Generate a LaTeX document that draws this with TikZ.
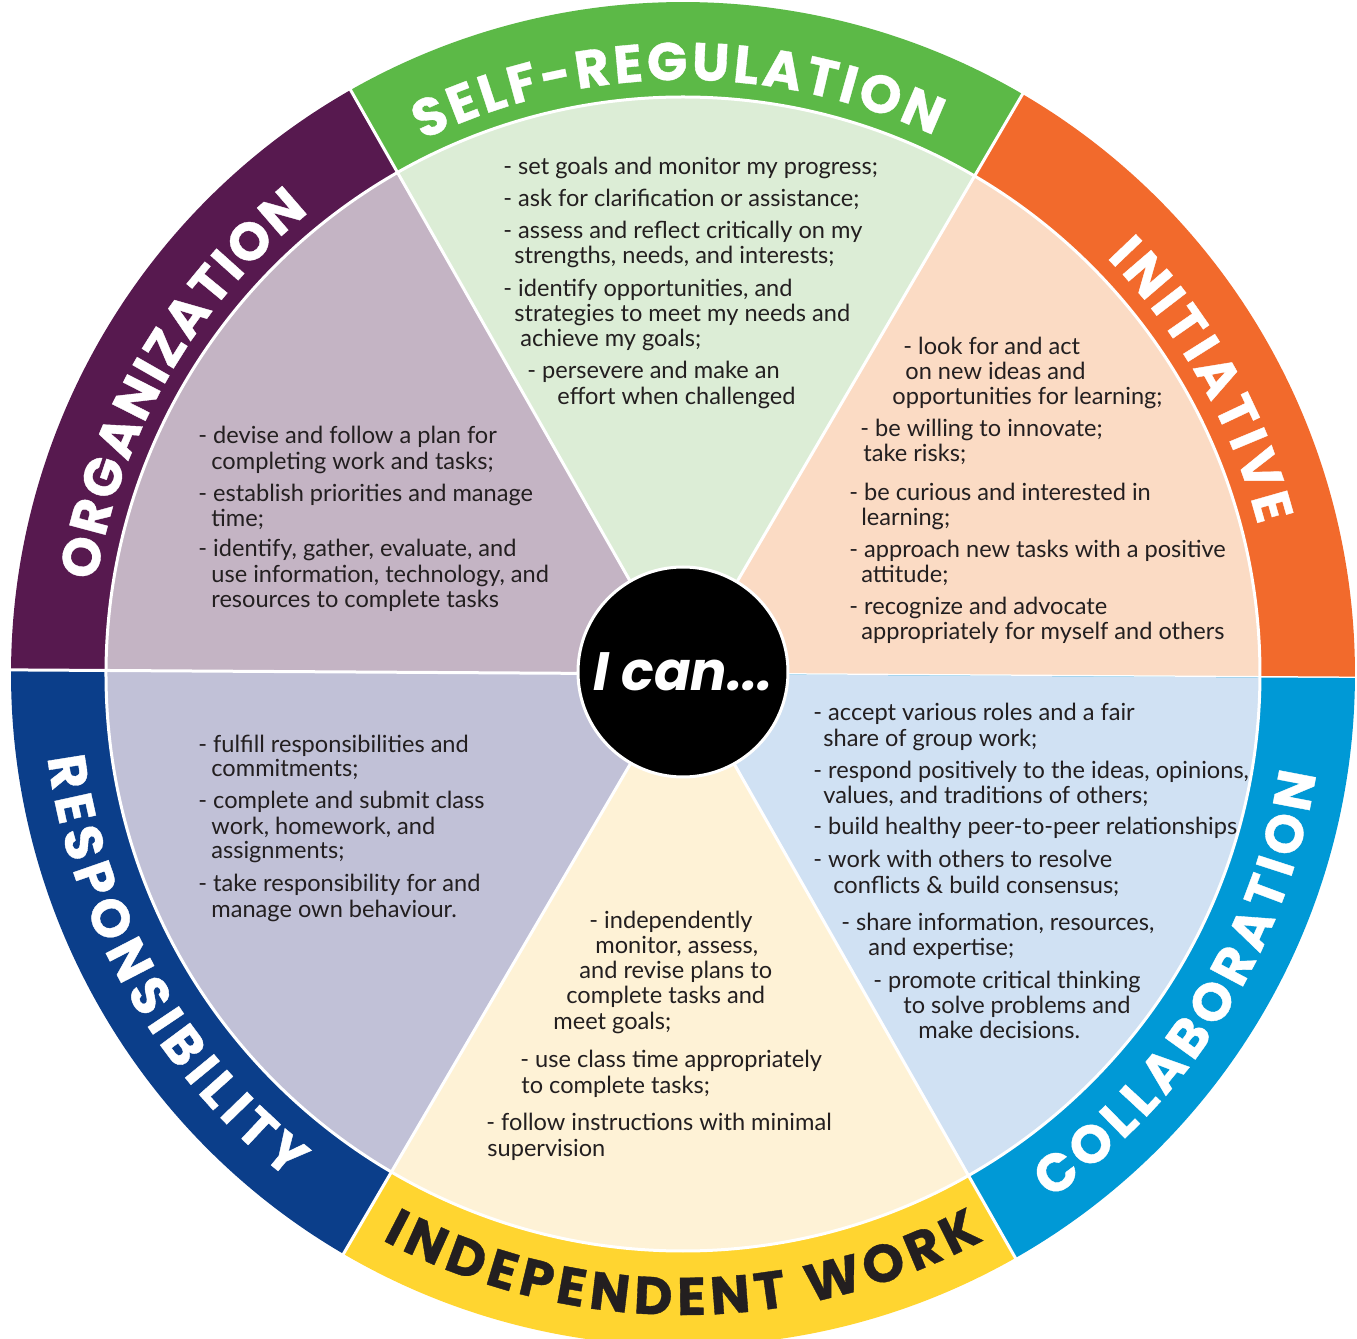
\documentclass[tikz,border=0pt]{standalone}
\usepackage{fontspec}
\setmainfont{Lato}
\newfontfamily\labfont{Poppins}[BoldFeatures={FakeBold=0.7}]
\usetikzlibrary{decorations.text}
\definecolor{ringgreen}{HTML}{5CB947}
\definecolor{palegreen}{HTML}{DCEDD6}
\definecolor{ringorange}{HTML}{F26A2C}
\definecolor{paleorange}{HTML}{FBDBC4}
\definecolor{ringblue}{HTML}{0099D6}
\definecolor{paleblue}{HTML}{D0E1F3}
\definecolor{ringyellow}{HTML}{FFD530}
\definecolor{paleyellow}{HTML}{FEF2D6}
\definecolor{ringnavy}{HTML}{0B3E8A}
\definecolor{palenavy}{HTML}{C1C1D7}
\definecolor{ringpurple}{HTML}{57194F}
\definecolor{palepurple}{HTML}{C4B4C4}
\definecolor{textdark}{HTML}{231F20}
\newcommand\labelfmt{\labfont\bfseries\fontsize{26.5}{26.5}\selectfont}
\begin{document}
\begin{tikzpicture}[x=0.5pt,y=0.5pt,
  body/.style={anchor=base west, inner sep=0pt, font=\fontsize{11.8}{14}\selectfont, text=textdark},
  sep/.style={white, line width=1.5pt},
  toplabel/.style={decorate, decoration={text along path, text={|\labelfmt|#1}, text align=fit to path, text color=white}},
  botlabel/.style={decorate, decoration={text along path, text={|\labelfmt|#1}, text align=fit to path, text color=white}},
  darklabel/.style={decorate, decoration={text along path, text={|\labelfmt|#1}, text align=fit to path, text color=textdark}}]
\useasboundingbox[fill=white] (-683,674) rectangle (674,-665);
% sectors
\foreach \a/\rc/\pc in {-0.35/ringorange/paleorange, 59.65/ringgreen/palegreen, 119.65/ringpurple/palepurple, 179.65/ringnavy/palenavy, 239.65/ringyellow/paleyellow, 299.65/ringblue/paleblue}{
  \fill[\rc] (0,0) -- (\a:672) arc[start angle=\a, end angle=\a+60, radius=672] -- cycle;
  \fill[\pc] (0,0) -- (\a:577) arc[start angle=\a, end angle=\a+60, radius=577] -- cycle;
  \draw[sep] (0,0) -- (\a:673);
}
\draw[sep] (0,0) circle[radius=577];
% ring labels
\path[toplabel=SELF-REGULATION] (116:594) arc[start angle=116, end angle=65, radius=594];
\path[toplabel=ORGANIZATION] (171:594) arc[start angle=171, end angle=129, radius=594];
\path[toplabel=INITIATIVE] (44.5:594) arc[start angle=44.5, end angle=14.5, radius=594];
\path[botlabel=RESPONSIBILITY] (187.5:641) arc[start angle=187.5, end angle=232, radius=641];
\path[darklabel=INDEPENDENT WORK] (242:641) arc[start angle=242, end angle=298, radius=641];
\path[botlabel=COLLABORATION] (305:641) arc[start angle=305, end angle=351, radius=641];
% centre
\node[circle, fill=black, draw=white, line width=1.5pt, minimum size=105pt, inner sep=0pt, text=white, text depth=0pt, font=\labfont\bfseries\itshape\fontsize{27}{27}\selectfont] (ican) at (0,2) {I can...};
% texts
\begin{scope}[shift={(-683,674)}, yscale=-1]
\foreach \x/\y/\t [count=\i] in {
 503/175/{- set goals and monitor my progress;},
 503/206.7/{- ask for clarification or assistance;},
 503/239/{- assess and reflect critically on my},
 514/264/{strengths, needs, and interests;},
 503/296.7/{- identify opportunities, and},
 514/321.7/{strategies to meet my needs and},
 520/346.7/{achieve my goals;},
 527/379/{- persevere and make an},
 557/405/{effort when challenged}}
 {\node[body] (sr\i) at (\x,\y) {\t};}
\foreach \x/\y/\t [count=\i] in {
 198/444/{- devise and follow a plan for},
 211/470/{completing work and tasks;},
 198/501.7/{- establish priorities and manage},
 211/527/{time;},
 198/557/{- identify, gather, evaluate, and},
 211/583/{use information, technology, and},
 211/608/{resources to complete tasks}}
 {\node[body] (og\i) at (\x,\y) {\t};}
\foreach \x/\y/\t [count=\i] in {
 903/355/{- look for and act},
 905/380/{on new ideas and},
 892/405/{opportunities for learning;},
 860/437/{- be willing to innovate;},
 863/462/{take risks;},
 849/501/{- be curious and interested in},
 861/526/{learning;},
 849/558/{- approach new tasks with a positive},
 861/583/{attitude;},
 849/615/{- recognize and advocate},
 861/640/{appropriately for myself and others}}
 {\node[body] (in\i) at (\x,\y) {\t};}
\foreach \x/\y/\t [count=\i] in {
 813/721/{- accept various roles and a fair},
 823/746.7/{share of group work;},
 813/778.3/{- respond positively to the ideas, opinions,},
 823/804/{values, and traditions of others;},
 813/835/{- build healthy peer-to-peer relationships},
 813/867.7/{- work with others to resolve},
 833/893.3/{conflicts \& build consensus;},
 841/931/{- share information, resources,},
 868/955.7/{and expertise;},
 873/988.3/{- promote critical thinking},
 903/1013.3/{to solve problems and},
 918/1038.3/{make decisions.}}
 {\node[body] (co\i) at (\x,\y) {\t};}
\foreach \x/\y/\t [count=\i] in {
 589/928.3/{- independently},
 595/953.3/{monitor, assess,},
 579/979/{and revise plans to},
 566/1004/{complete tasks and},
 553/1030/{meet goals;},
 520/1067.3/{- use class time appropriately},
 521/1093.3/{to complete tasks;},
 486/1130.7/{- follow instructions with minimal},
 487/1156/{supervision}}
 {\node[body] (iw\i) at (\x,\y) {\t};}
\foreach \x/\y/\t [count=\i] in {
 198/752.3/{- fulfill responsibilities and},
 211/776.7/{commitments;},
 198/808.3/{- complete and submit class},
 211/834.3/{work, homework, and},
 211/859/{assignments;},
 198/891.7/{- take responsibility for and},
 211/917.3/{manage own behaviour.}}
 {\node[body] (rs\i) at (\x,\y) {\t};}
\end{scope}
\end{tikzpicture}
\end{document}
